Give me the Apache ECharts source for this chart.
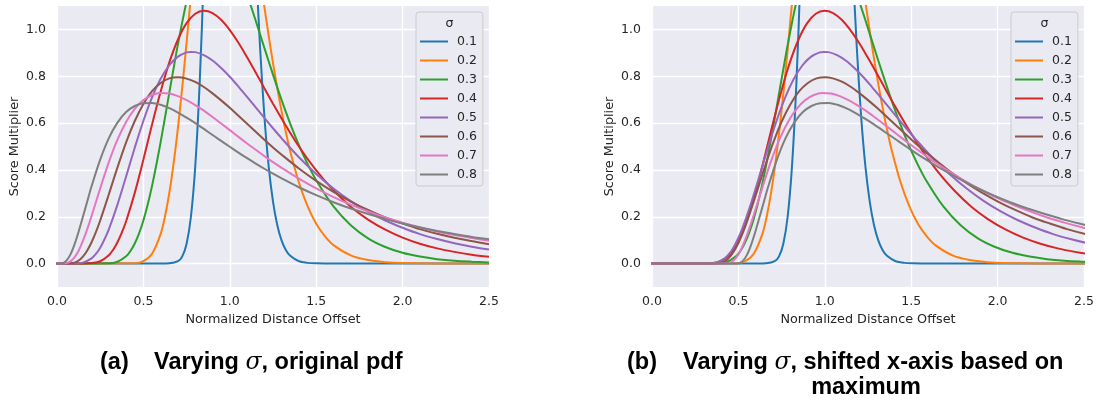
<!DOCTYPE html>
<html><head><meta charset="utf-8">
<script src="https://cdn.jsdelivr.net/npm/echarts@6/dist/echarts.min.js"></script>
<style>html,body{margin:0;padding:0;background:#fff}#c{width:1098px;height:403px}</style>
</head><body><div id="c"></div>
<script>
// ---- data ----
const sigmaLabels = ['0.1','0.2','0.3','0.4','0.5','0.6','0.7','0.8'];
const xTicks = ['0.0','0.5','1.0','1.5','2.0','2.5'];
const yTicks = ['0.0','0.2','0.4','0.6','0.8','1.0'];
// x position of each curve's maximum in panel (a); panel (b) moves it to 1.0
const peakX = [0.990, 0.961, 0.914, 0.852, 0.779, 0.698, 0.613, 0.527];

const x01 = [-0.5,0.6,0.65,0.7,0.725,0.75,0.775,0.8,0.825,0.85,0.9,0.95,1.0,1.05,1.1,1.15,1.175,1.2,1.225,1.25,1.275,1.3,1.325,1.35,1.4,1.45,1.5,1.6,2.5];
const y01 = [0,0,0.001,0.010,0.031,0.085,0.200,0.414,0.760,1.253,2.545,3.682,3.989,3.373,2.303,1.307,0.925,0.631,0.415,0.265,0.164,0.098,0.057,0.033,0.010,0.003,0.001,0.000,0.000];

const x02 = [-0.5,0.45,0.5,0.55,0.6,0.625,0.65,0.675,0.7,0.725,0.75,0.775,0.8,0.85,0.9,0.95,1.0,1.05,1.1,1.15,1.2,1.225,1.25,1.275,1.3,1.325,1.35,1.4,1.45,1.5,1.55,1.6,1.7,1.8,1.9,2.0,2.2,2.5];
const y02 = [0,0.001,0.010,0.042,0.127,0.202,0.302,0.429,0.581,0.755,0.945,1.143,1.338,1.687,1.929,2.032,1.995,1.844,1.619,1.359,1.097,0.973,0.856,0.748,0.649,0.559,0.479,0.346,0.245,0.170,0.117,0.079,0.035,0.015,0.006,0.002,0.000,0.000];

const x03 = [-0.5,0,0.3,0.35,0.4,0.425,0.45,0.475,0.5,0.525,0.55,0.575,0.6,0.625,0.65,0.675,0.7,0.75,0.8,0.85,0.9,0.95,1.0,1.05,1.1,1.15,1.2,1.25,1.3,1.35,1.4,1.45,1.5,1.6,1.7,1.8,1.9,2.0,2.1,2.2,2.3,2.4,2.5];
const y03 = [0,0,0.001,0.008,0.031,0.054,0.086,0.129,0.184,0.252,0.332,0.422,0.520,0.624,0.730,0.835,0.937,1.120,1.261,1.351,1.389,1.380,1.330,1.250,1.149,1.037,0.921,0.807,0.698,0.597,0.506,0.426,0.356,0.244,0.164,0.108,0.071,0.046,0.030,0.019,0.012,0.008,0.005];

const x04 = [-0.5,0,0.15,0.2,0.25,0.3,0.325,0.35,0.375,0.4,0.45,0.5,0.55,0.6,0.65,0.7,0.75,0.8,0.85,0.9,0.95,1.0,1.05,1.1,1.15,1.2,1.25,1.3,1.4,1.5,1.6,1.7,1.8,1.9,2.0,2.1,2.2,2.3,2.4,2.5];
const y04 = [0,0,0.000,0.002,0.010,0.036,0.059,0.091,0.132,0.181,0.302,0.444,0.594,0.735,0.859,0.957,1.027,1.067,1.080,1.070,1.041,0.997,0.943,0.881,0.816,0.749,0.683,0.619,0.500,0.398,0.313,0.243,0.188,0.145,0.111,0.085,0.065,0.050,0.038,0.029];

const x05 = [-0.5,0,0.1,0.15,0.2,0.225,0.25,0.275,0.3,0.35,0.4,0.45,0.5,0.55,0.6,0.65,0.7,0.75,0.775,0.8,0.85,0.9,0.95,1.0,1.05,1.1,1.15,1.2,1.25,1.3,1.4,1.5,1.6,1.7,1.8,1.9,2.0,2.1,2.2,2.3,2.4,2.5];
const y05 = [0,0,0.000,0.004,0.022,0.041,0.068,0.104,0.146,0.252,0.372,0.495,0.610,0.710,0.789,0.847,0.884,0.902,0.904,0.903,0.890,0.867,0.835,0.798,0.756,0.712,0.667,0.622,0.578,0.535,0.454,0.383,0.321,0.267,0.222,0.184,0.153,0.126,0.105,0.087,0.072,0.060];

const x06 = [-0.5,0,0.05,0.1,0.125,0.15,0.175,0.2,0.225,0.25,0.3,0.35,0.4,0.45,0.5,0.55,0.6,0.65,0.7,0.75,0.8,0.85,0.9,0.95,1.0,1.05,1.1,1.15,1.2,1.25,1.3,1.4,1.5,1.6,1.7,1.8,1.9,2.0,2.1,2.2,2.3,2.4,2.5];
const y06 = [0,0,0.000,0.004,0.013,0.030,0.056,0.091,0.134,0.184,0.296,0.411,0.518,0.609,0.682,0.736,0.771,0.791,0.796,0.790,0.776,0.754,0.727,0.697,0.665,0.631,0.597,0.563,0.529,0.496,0.465,0.406,0.353,0.306,0.265,0.229,0.197,0.171,0.147,0.127,0.110,0.096,0.083];

const x07 = [-0.5,0,0.05,0.075,0.1,0.125,0.15,0.175,0.2,0.25,0.3,0.35,0.4,0.45,0.5,0.55,0.6,0.65,0.7,0.75,0.8,0.85,0.9,0.95,1.0,1.05,1.1,1.15,1.2,1.25,1.3,1.4,1.5,1.6,1.7,1.8,1.9,2.0,2.1,2.2,2.3,2.4,2.5];
const y07 = [0,0,0.001,0.008,0.025,0.055,0.097,0.147,0.203,0.321,0.433,0.529,0.605,0.661,0.698,0.720,0.728,0.726,0.715,0.698,0.677,0.653,0.626,0.598,0.570,0.541,0.513,0.486,0.459,0.433,0.409,0.363,0.321,0.284,0.252,0.223,0.197,0.175,0.155,0.137,0.122,0.109,0.097];

const x08 = [-0.5,0,0.025,0.05,0.075,0.1,0.125,0.15,0.175,0.2,0.25,0.3,0.35,0.4,0.45,0.5,0.55,0.6,0.65,0.7,0.75,0.8,0.85,0.9,0.95,1.0,1.05,1.1,1.15,1.2,1.25,1.3,1.4,1.5,1.6,1.7,1.8,1.9,2.0,2.1,2.2,2.3,2.4,2.5];
const y08 = [0,0,0.000,0.009,0.035,0.079,0.136,0.200,0.265,0.330,0.444,0.536,0.602,0.647,0.673,0.685,0.686,0.678,0.664,0.645,0.623,0.600,0.575,0.549,0.524,0.499,0.474,0.450,0.427,0.405,0.384,0.364,0.326,0.292,0.262,0.235,0.212,0.190,0.171,0.154,0.139,0.126,0.114,0.104];

const captionA = ['(a)', 'Varying ', 'σ', ', original pdf'];
const captionB = ['(b)', 'Varying ', 'σ', ', shifted x-axis based on', 'maximum'];

// ---- styles ----
const colors = ['#1f77b4','#ff7f0e','#2ca02c','#d62728','#9467bd','#8c564b','#e377c2','#7f7f7f'];
const xsAll = [x01,x02,x03,x04,x05,x06,x07,x08];
const ysAll = [y01,y02,y03,y04,y05,y06,y07,y08];
const TXT = '#262626';
const BG = '#EAEAF2';
const tickFont = {fontFamily:'DejaVu Sans', fontSize:12.5, color:TXT};

const gridW = 432, gridH = 281, gridTop = 6;
const panels = [{left:57, legendLeft:416}, {left:652, legendLeft:1011}];

function xAxisFor(i){
  return {
    gridIndex:i, type:'value', min:0, max:2.5, interval:0.5,
    axisLine:{show:false}, axisTick:{show:false},
    axisLabel:{...tickFont, margin:8, formatter:v=>{const k=Math.round(v*2); return (k>=0&&k<xTicks.length)?xTicks[k]:'';}},
    splitLine:{show:true, lineStyle:{color:'#ffffff', width:1.4}},
    name:'Normalized Distance Offset', nameLocation:'middle', nameGap:26,
    nameTextStyle:{fontFamily:'DejaVu Sans', fontSize:12.8, color:TXT}
  };
}
function yAxisFor(i){
  return {
    gridIndex:i, type:'value', min:-0.1, max:1.1, interval:0.1,
    axisLine:{show:false}, axisTick:{show:false},
    axisLabel:{...tickFont, margin:11, formatter:v=>{const k=Math.round(v*10); return (k>=0 && k%2===0 && k/2<yTicks.length)?yTicks[k/2]:'';}},
    splitLine:{show:true, lineStyle:{color:['rgba(0,0,0,0)','#ffffff'], width:1.4}},
    name:'Score Multiplier', nameLocation:'middle', nameGap:36,
    nameTextStyle:{fontFamily:'DejaVu Sans', fontSize:12.8, color:TXT}
  };
}

const series = [];
for (let p=0;p<2;p++){
  for (let i=0;i<8;i++){
    const xs = xsAll[i], ys = ysAll[i];
    const shift = p===0 ? 0 : (1 - peakX[i]);
    series.push({
      name: sigmaLabels[i], type:'line', xAxisIndex:p, yAxisIndex:p,
      data: xs.map((x,j)=>[x+shift, ys[j]]),
      symbol:'none', smooth:0.3, clip:true,
      lineStyle:{color:colors[i], width:2}, itemStyle:{color:colors[i]},
      emphasis:{disabled:true}, silent:true
    });
  }
}

const legends = panels.map(pn=>({
  data: sigmaLabels.map(n=>({name:n, icon:'rect'})), orient:'vertical', left:pn.legendLeft, top:12,
  padding:[22,6,4,4], itemWidth:28, itemHeight:2, itemGap:4,
  backgroundColor:BG, borderColor:'#cccccc', borderWidth:1, borderRadius:3,
  selectedMode:false,
  formatter: n=>' '+n,
  textStyle:{fontFamily:'DejaVu Sans', fontSize:12.5, color:TXT, lineHeight:15}
}));

const capFont = 'bold 23.5px "Liberation Sans", Arial, sans-serif';
const sigFont = 'italic 23.5px "DejaVu Serif", "Liberation Serif", serif';
const rich = {
  n:{font:capFont, fill:'#000'},
  s:{font:sigFont, fill:'#000'}
};
const graphic = [
  {type:'text', z:100, style:{text:'σ', x:449.5, y:24, font:'12.5px "DejaVu Sans"', fill:TXT, textAlign:'center', textVerticalAlign:'middle'}},
  {type:'text', z:100, style:{text:'σ', x:1044.5, y:24, font:'12.5px "DejaVu Sans"', fill:TXT, textAlign:'center', textVerticalAlign:'middle'}},
  {type:'text', style:{text:captionA[0], x:100, y:363, font:capFont, fill:'#000', textVerticalAlign:'middle'}},
  {type:'text', style:{text:'{n|'+captionA[1]+'}{s|'+captionA[2]+'}{n|'+captionA[3]+'}', rich, x:154, y:363, textVerticalAlign:'middle'}},
  {type:'text', style:{text:captionB[0], x:627, y:363, font:capFont, fill:'#000', textVerticalAlign:'middle'}},
  {type:'text', style:{text:'{n|'+captionB[1]+'}{s|'+captionB[2]+'}{n|'+captionB[3]+'}', rich, x:683, y:363, textVerticalAlign:'middle'}},
  {type:'text', style:{text:captionB[4], x:866, y:388, font:capFont, fill:'#000', textAlign:'center', textVerticalAlign:'middle'}}
];

const chart = echarts.init(document.getElementById('c'), null, {renderer:'canvas'});
chart.setOption({
  animation:false,
  backgroundColor:'#ffffff',
  grid: panels.map(pn=>({left:pn.left, top:gridTop, width:gridW, height:gridH, show:true, backgroundColor:BG, borderWidth:0, containLabel:false})),
  xAxis:[xAxisFor(0), xAxisFor(1)],
  yAxis:[yAxisFor(0), yAxisFor(1)],
  legend: legends,
  series,
  graphic
});
</script>
</body></html>
